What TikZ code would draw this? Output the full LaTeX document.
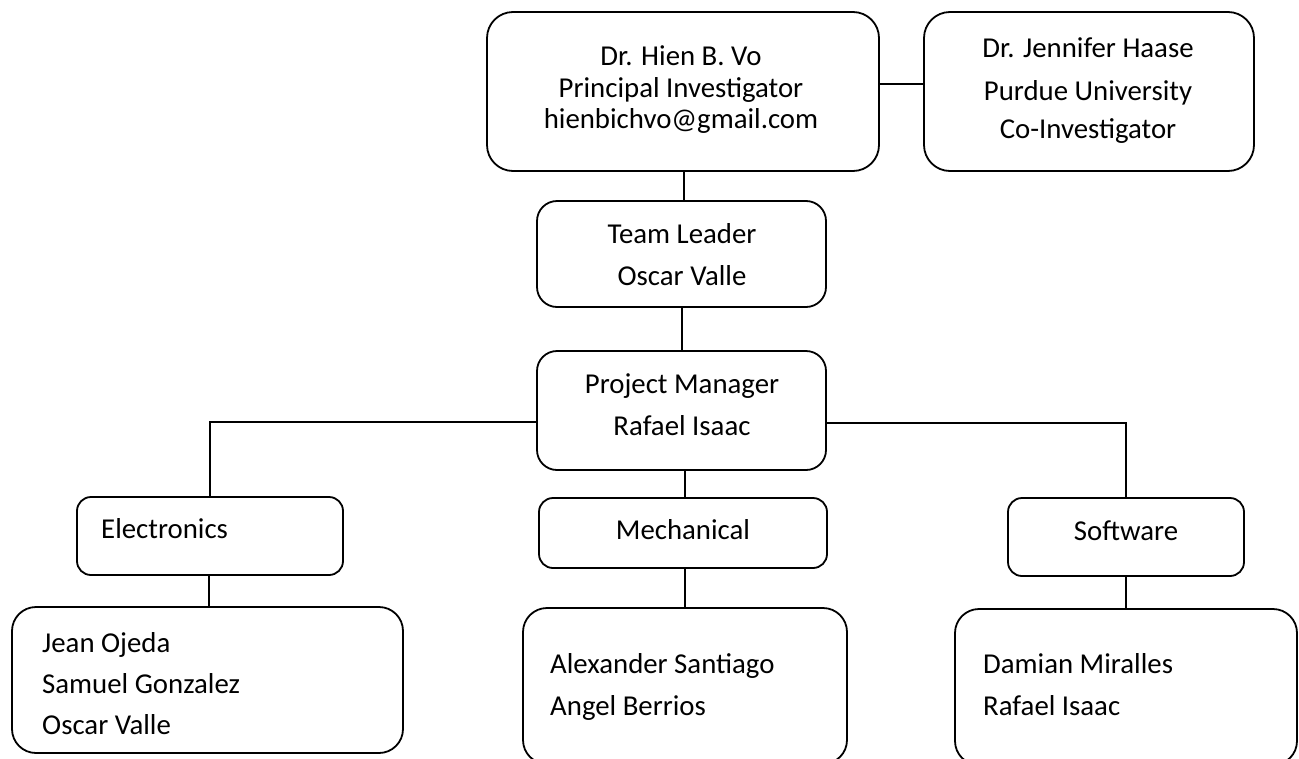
\documentclass[tikz,border=0pt]{standalone}
\usepackage{fontspec}
\setmainfont{Carlito}
\begin{document}
\begin{tikzpicture}[x=1pt,y=-1pt,
  box/.style={draw=black, line width=1.8pt, rounded corners=#1, inner sep=0pt},
  txt/.style={font=\fontsize{28.8}{34}\selectfont, inner sep=0pt},
  conn/.style={draw=black, line width=1.8pt}]
\useasboundingbox (0,0) rectangle (1299,758);
\fill[white] (0,0) rectangle (1299,758);
\clip (0,0) rectangle (1299,758);
% boxes
\node[box=26pt, minimum width=392pt, minimum height=159pt] (pi) at (683,91.5) {};
\node[box=26pt, minimum width=330pt, minimum height=159pt] (coi) at (1089,91.5) {};
\node[box=20pt, minimum width=289pt, minimum height=106pt] (tl) at (681.5,254) {};
\node[box=20pt, minimum width=289pt, minimum height=119pt] (pm) at (681.5,410.5) {};
\node[box=14pt, minimum width=266pt, minimum height=78pt] (elec) at (210,536) {};
\node[box=14pt, minimum width=288pt, minimum height=70pt] (mech) at (683,533) {};
\node[box=14pt, minimum width=236pt, minimum height=78pt] (soft) at (1126,537) {};
\node[box=24pt, minimum width=391pt, minimum height=146pt] (jean) at (207.5,680) {};
\node[box=24pt, minimum width=324pt, minimum height=156pt] (alex) at (685,686) {};
\node[box=24pt, minimum width=342pt, minimum height=156pt] (dam) at (1126,687) {};
% connectors
\draw[conn] ([yshift=7.5pt]pi.east) -- ([yshift=7.5pt]coi.west);
\coordinate (pibot) at (684,171);
\draw[conn] (pibot) -- (pibot |- tl.north);
\coordinate (tlbot) at (682,307);
\draw[conn] (tlbot) -- (tlbot |- pm.north);
\coordinate (pmL) at (537,422);
\coordinate (pmR) at (826,423);
\draw[conn] (pmL) -| (elec.north);
\draw[conn] (pmR) -| (soft.north);
\coordinate (pmbot) at (685,470);
\draw[conn] (pmbot) -- (pmbot |- mech.north);
\coordinate (mechbot) at (685,568);
\draw[conn] (mechbot) -- (mechbot |- alex.north);
\coordinate (elecbot) at (209,575);
\draw[conn] (elecbot) -- (elecbot |- jean.north);
\draw[conn] (soft.south) -- (soft.south |- dam.north);
% texts
\node[txt, anchor=base] (pi1) at (681,65) {Dr. Hien B. Vo};
\node[txt, anchor=base] (pi2) at (681,97) {Principal Investigator};
\node[txt, anchor=base] (pi3) at (681,128) {hienbichvo@gmail.com};
\node[txt, anchor=base] (coi1) at (1088,57) {Dr. Jennifer Haase};
\node[txt, anchor=base] (coi2) at (1088,100) {Purdue University};
\node[txt, anchor=base] (coi3) at (1088,138) {Co-Investigator};
\node[txt, anchor=base] (tl1) at (682,243) {Team Leader};
\node[txt, anchor=base] (tl2) at (682,285) {Oscar Valle};
\node[txt, anchor=base] (pm1) at (682,393) {Project Manager};
\node[txt, anchor=base] (pm2) at (682,435) {Rafael Isaac};
\node[txt, anchor=base west] (el1) at (101,538) {Electronics};
\node[txt, anchor=base] (me1) at (683,539) {Mechanical};
\node[txt, anchor=base] (so1) at (1126,540) {Software};
\node[txt, anchor=base west] (je1) at (42,652) {Jean Ojeda};
\node[txt, anchor=base west] (je2) at (42,693) {Samuel Gonzalez};
\node[txt, anchor=base west] (je3) at (42,734) {Oscar Valle};
\node[txt, anchor=base west] (al1) at (550,673) {Alexander Santiago};
\node[txt, anchor=base west] (al2) at (550,715) {Angel Berrios};
\node[txt, anchor=base west] (da1) at (983,673) {Damian Miralles};
\node[txt, anchor=base west] (da2) at (983,715) {Rafael Isaac};
\end{tikzpicture}
\end{document}
